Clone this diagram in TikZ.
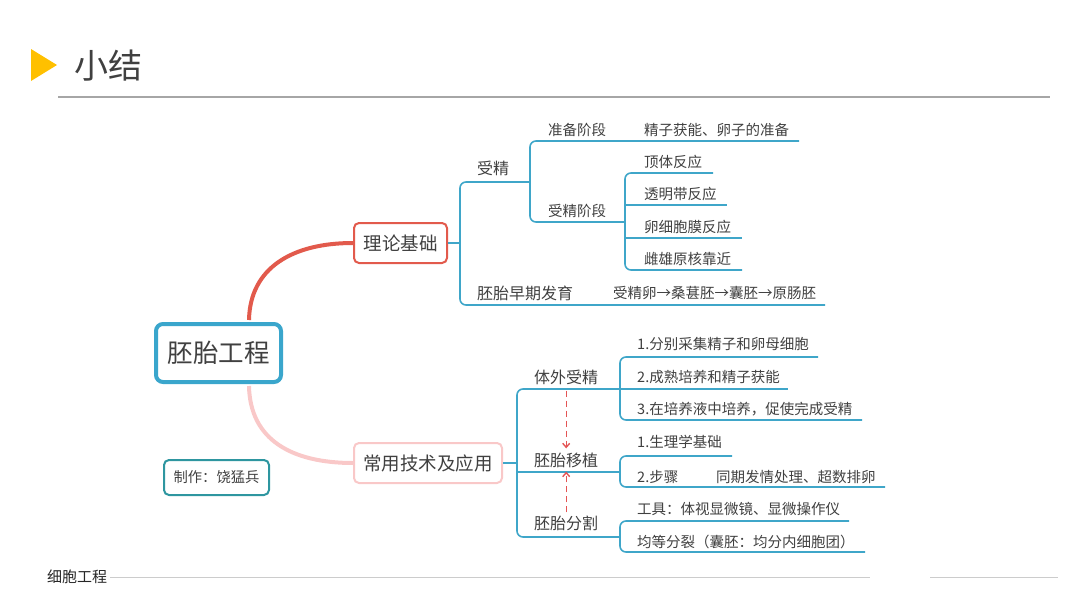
\documentclass[tikz,border=0pt]{standalone}
\usepackage{fontspec}
\setmainfont{Noto Sans CJK SC}
\usetikzlibrary{arrows.meta}
\definecolor{branchblue}{RGB}{63,166,201}
\definecolor{rootblue}{RGB}{58,166,204}
\definecolor{theoryred}{RGB}{226,90,76}
\definecolor{applypink}{RGB}{249,200,200}
\definecolor{authorteal}{RGB}{46,150,160}
\definecolor{titleyellow}{RGB}{255,192,0}
\definecolor{textgray}{RGB}{64,64,64}
\definecolor{linkred}{RGB}{228,84,84}

\begin{document}
\begin{tikzpicture}[x=1pt,y=-1pt,
  every node/.style={text=textgray,inner sep=0pt},
  branch/.style={branchblue,line width=1.6pt,rounded corners=6pt},
  topic/.style={anchor=west,font=\fontsize{16}{19}\selectfont},
  leaf/.style={anchor=west,font=\fontsize{14.5}{17}\selectfont},
  mainbox/.style={draw,fill=white,line width=2pt,rounded corners=5pt,
    minimum height=40pt,font=\fontsize{18.5}{22}\selectfont},
  dasharrow/.style={linkred,line width=1.4pt,dash pattern=on 6pt off 4pt,
    -{Straight Barb[length=4pt,width=7pt]}}]
  \useasboundingbox (0,0) rectangle (1080,608);

  % header and footer
  \fill[titleyellow] (31,49) -- (57,65) -- (31,81) -- cycle;
  \node[anchor=west,font=\fontsize{34}{40}\selectfont] (title) at (74,66) {小结};
  \draw[black!35,line width=1.2pt] (58,97) -- (1050,97);
  \node[anchor=west,font=\fontsize{15}{18}\selectfont,text=black!85] (footer) at (47,577) {细胞工程};
  \draw[black!20,line width=1pt] (footer.east) ++(3,0) -- (870,577);
  \draw[black!20,line width=1pt] (930,577) -- (1058,577);

  % main topics
  \node[draw=rootblue,fill=white,line width=4pt,rounded corners=7pt,minimum width=125pt,
    minimum height=58pt,font=\fontsize{25.5}{30}\selectfont] (root) at (218.5,353) {胚胎工程};
  \node[mainbox,draw=theoryred,minimum width=93pt] (theory) at (400.5,243) {理论基础};
  \node[mainbox,draw=applypink,minimum width=148pt] (apply) at (428,463) {常用技术及应用};
  \node[draw=authorteal,line width=2pt,rounded corners=5pt,minimum width=105pt,
    minimum height=35pt,font=\fontsize{14.3}{17}\selectfont] (author) at (216.5,477.5) {制作：饶猛兵};

  \draw[theoryred,line width=4pt] ([xshift=30.5pt,yshift=2pt]root.north)
    .. controls (250,268) and (292,243) .. (theory.west);
  \draw[applypink,line width=4pt] ([xshift=30.5pt,yshift=-2pt]root.south)
    .. controls (250,440) and (292,463) .. (apply.west);

  % theory branch
  \node[topic] (shoujing) at (477,168) {受精};
  \node[topic] (zaoqi) at (477,293) {胚胎早期发育};
  \node[leaf] (zhunbei) at (548,130) {准备阶段};
  \node[leaf] (sjjd) at (548,211) {受精阶段};
  \node[leaf] (huoneng) at (644,130) {精子获能、卵子的准备};
  \node[leaf] (dingti) at (644,162) {顶体反应};
  \node[leaf] (touming) at (644,194) {透明带反应};
  \node[leaf] (luanxibao) at (644,227) {卵细胞膜反应};
  \node[leaf] (cixiong) at (644,259) {雌雄原核靠近};
  \node[leaf] (fayu) at (613,293) {受精卵→桑葚胚→囊胚→原肠胚};

  \draw[branch] (theory.east) -- (460,243);
  \draw[branch] (530,182) -- (460,182) -- (460,305) -- (825,305);
  \draw[branch] (799,141) -- (530,141) -- (530,222) -- (625,222);
  \draw[branch] (713,173) -- (625,173) -- (625,270) -- (742,270);
  \draw[branch] (625,205) -- (727,205);
  \draw[branch] (625,238) -- (742,238);

  % apply branch
  \node[topic] (tiwai) at (534,377) {体外受精};
  \node[topic] (yizhi) at (534,460) {胚胎移植};
  \node[topic] (fenge) at (534,523) {胚胎分割};
  \node[leaf] (caiji) at (637,344) {1.分别采集精子和卵母细胞};
  \node[leaf] (peiyang) at (637,377) {2.成熟培养和精子获能};
  \node[leaf] (wancheng) at (637,409) {3.在培养液中培养，促使完成受精};
  \node[leaf] (shengli) at (637,442) {1.生理学基础};
  \node[leaf] (buzhou) at (637,477) {2.步骤};
  \node[leaf] (tongqi) at (716,477) {同期发情处理、超数排卵};
  \node[leaf] (gongju) at (637,509) {工具：体视显微镜、显微操作仪};
  \node[leaf] (junfen) at (637,542) {均等分裂（囊胚：均分内细胞团）};

  \draw[branch] (apply.east) -- (517,463);
  \draw[branch] (620,389) -- (517,389) -- (517,537) -- (620,537);
  \draw[branch] (517,472) -- (620,472);
  \draw[branch] (818,357) -- (620,357) -- (620,420) -- (862,420);
  \draw[branch] (620,389) -- (788,389);
  \draw[branch] (732,456) -- (620,456) -- (620,487) -- (885,487);
  \draw[branch] (849,521) -- (620,521) -- (620,552) -- (865,552);

  \draw[dasharrow] ([yshift=-6pt]tiwai.south) -- ([yshift=4pt]yizhi.north);
  \draw[dasharrow] ([yshift=3pt]fenge.north) -- ([yshift=-4pt]yizhi.south);
\end{tikzpicture}
\end{document}
